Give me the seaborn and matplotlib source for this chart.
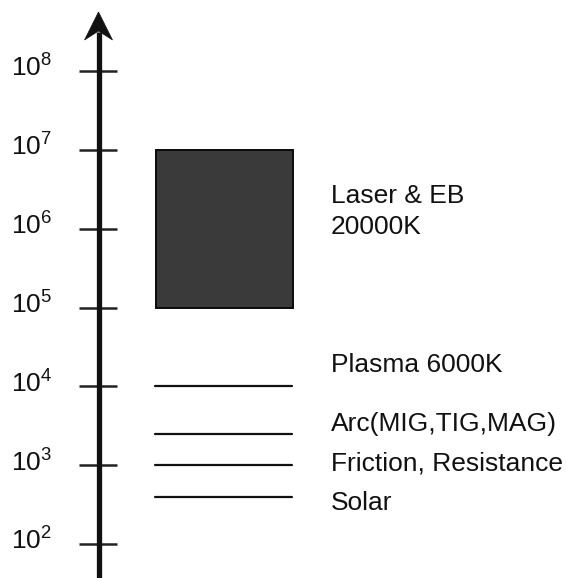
import matplotlib
matplotlib.use("Agg")
import matplotlib.pyplot as plt
from matplotlib.patches import Polygon
import numpy as np
import pandas as pd
import seaborn as sns

# Power-density levels of heat sources (W/cm^2)
tick_exponents = [2, 3, 4, 5, 6, 7, 8]
band_names = ["Laser & EB\n20000K"]
band_low = [1e5]
band_high = [1e7]
level_names = ["Plasma 6000K", "Arc(MIG,TIG,MAG)", "Friction, Resistance", "Solar"]
level_values = [1e4, 2.5e3, 1e3, 4e2]

sns.set_theme(style="white")
plt.rcParams["font.family"] = ["Liberation Sans", "DejaVu Sans"]
plt.rcParams["mathtext.fontset"] = "custom"
plt.rcParams["mathtext.rm"] = "Liberation Sans"
plt.rcParams["mathtext.it"] = "Liberation Sans"

W, H = 567, 578
fig = plt.figure(figsize=(W / 100, H / 100), dpi=100)
fig.patch.set_facecolor("white")
ax = fig.add_axes([0, 0, 1, 1])

# vertical layout: decades are evenly spaced on a log axis
PX_PER_DEC = (544 - 71) / 6.0
LOG_TOP = 8 + 71 / PX_PER_DEC


def ypos(px):
    """Row position (pixels from top) to value on the log axis."""
    return 10 ** (LOG_TOP - px / PX_PER_DEC)


ax.set_yscale("log")
ax.set_xlim(0, W)
ax.set_ylim(ypos(H), ypos(0))
ax.axis("off")

ink = "#111111"
axis_x = 98.5
FS = 19

# main axis with arrow head
ax.vlines(axis_x, ypos(H), ypos(32), color=ink, lw=3.8, zorder=3)
head = Polygon([[axis_x, ypos(12)], [axis_x - 14, ypos(40)],
                [axis_x, ypos(31)], [axis_x + 14, ypos(40)]],
               closed=True, facecolor=ink, edgecolor=ink, lw=0.5, zorder=4)
ax.add_patch(head)

# ticks and labels
for e in tick_exponents:
    v = 10.0 ** e
    ax.hlines(v, 79, 117, color="#222222", lw=1.8, zorder=2)
    ax.text(52, v * 10 ** (-6 / PX_PER_DEC), r"$\mathregular{10^{%d}}$" % e,
            ha="right", va="baseline", fontsize=FS, color=ink)

# high-density band
for lo, hi, name in zip(band_low, band_high, band_names):
    ax.bar(x=224, height=hi - lo, bottom=lo, width=137,
           color="#3a3a3a", edgecolor="#0a0a0a", linewidth=1.4, zorder=2)
    ax.text(331, np.sqrt(lo * hi) * 10 ** (17 / PX_PER_DEC), name,
            ha="left", va="center", fontsize=FS, color=ink, linespacing=1.35)

# single-level sources
lines_df = pd.DataFrame({
    "x": [155, 292] * len(level_values),
    "y": [v for v in level_values for _ in range(2)],
    "source": [n for n in level_names for _ in range(2)],
})
sns.lineplot(data=lines_df, x="x", y="y", units="source", estimator=None,
             color=ink, lw=1.6, ax=ax, legend=False)
ax.set_xlim(0, W)
ax.set_ylim(ypos(H), ypos(0))
ax.axis("off")

label_offsets = [-14, -3, 5, 13]  # baseline offset (px) from each level
for v, name, off in zip(level_values, level_names, label_offsets):
    ax.text(331, v * 10 ** (-off / PX_PER_DEC), name,
            ha="left", va="baseline", fontsize=FS, color=ink)

fig.savefig("out.png", dpi=100, facecolor="white")
